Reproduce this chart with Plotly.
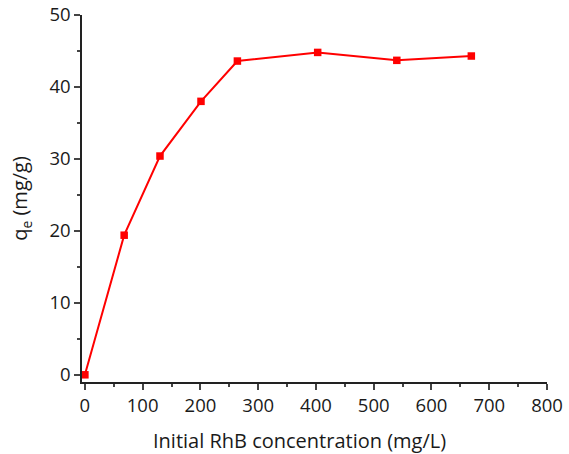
import plotly.graph_objects as go

conc = [0, 68, 130, 201, 264, 403, 540, 669]
qe = [0, 19.4, 30.4, 38.0, 43.6, 44.8, 43.7, 44.3]

x_ticks = [0, 100, 200, 300, 400, 500, 600, 700, 800]
y_ticks = [0, 10, 20, 30, 40, 50]

x_title = "Initial RhB concentration (mg/L)"
y_title = "q<sub>e</sub> (mg/g)"

fig = go.Figure()
fig.add_trace(go.Scatter(
    x=conc, y=qe, mode="lines+markers",
    line=dict(color="#ff0000", width=2),
    marker=dict(symbol="square", size=7.5, color="#ff0000"),
    showlegend=False,
))

font_family = "Open Sans, DejaVu Sans, sans-serif"
fig.update_layout(
    width=569, height=454,
    margin=dict(l=82, r=22, t=15, b=72),
    paper_bgcolor="white", plot_bgcolor="white",
    font=dict(family=font_family, size=18, color="#1a1a1a"),
    xaxis=dict(
        range=[-5, 800], tickvals=x_ticks, ticks="outside", ticklen=6, tickwidth=1.5,
        showline=True, linecolor="#222222", linewidth=1.5, showgrid=False, zeroline=False,
        automargin=False,
        minor=dict(ticks="outside", ticklen=3, tickwidth=1.5, dtick=50, tick0=0, showgrid=False),
        tickfont=dict(size=18.5),
    ),
    yaxis=dict(
        range=[-1, 50], tickvals=y_ticks, ticks="outside", ticklen=6, tickwidth=1.5,
        showline=True, linecolor="#222222", linewidth=1.5, showgrid=False, zeroline=False,
        automargin=False,
        minor=dict(ticks="outside", ticklen=3, tickwidth=1.5, dtick=5, tick0=0, showgrid=False),
        title=dict(text=y_title, font=dict(size=20), standoff=16),
        tickfont=dict(size=18.5),
    ),
    annotations=[dict(
        text=x_title, xref="paper", yref="paper", x=0.4667, y=-0.16,
        xanchor="center", yanchor="middle", showarrow=False, font=dict(size=20),
    )],
)

fig.write_html("out.html")
